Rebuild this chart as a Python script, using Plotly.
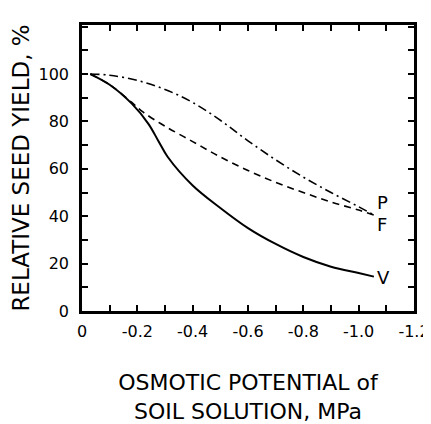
import plotly.graph_objects as go

# Data
v_x = [-0.03, -0.1, -0.18, -0.24, -0.275, -0.31, -0.4, -0.5, -0.6, -0.7, -0.8, -0.9, -1.0, -1.055]
v_y = [100, 95.5, 87.5, 79, 72, 65, 53, 43.5, 35, 28.3, 22.8, 18.7, 16, 14.5]

f_x = [-0.03, -0.1, -0.18, -0.22, -0.3, -0.4, -0.5, -0.6, -0.7, -0.8, -0.9, -1.0, -1.055]
f_y = [100, 95.5, 88, 84, 78, 71.5, 65, 59.3, 54.3, 50, 46, 42.6, 40.5]

p_x = [-0.03, -0.1, -0.2, -0.3, -0.4, -0.5, -0.6, -0.7, -0.8, -0.9, -1.0, -1.055]
p_y = [100, 99.5, 97.3, 93.5, 88, 80.5, 71.8, 63.8, 56.5, 50, 44, 40.5]

curve_labels = ["P", "F", "V"]
label_x = [-1.068, -1.068, -1.068]
label_y = [45.6, 36.6, 14.2]

x_tickvals = [0, -0.1, -0.2, -0.3, -0.4, -0.5, -0.6, -0.7, -0.8, -0.9, -1.0, -1.1, -1.2]
x_ticktext = ["0", "", "-0.2", "", "-0.4", "", "-0.6", "", "-0.8", "", "-1.0", "", "-1.2"]
y_tickvals = [0, 10, 20, 30, 40, 50, 60, 70, 80, 90, 100, 110, 120]
y_ticktext = ["0", "", "20", "", "40", "", "60", "", "80", "", "100", "", ""]

FONT = "DejaVu Sans"

fig = go.Figure()
fig.add_trace(go.Scatter(x=v_x, y=v_y, mode="lines", line=dict(color="black", width=2, shape="spline"), name="V"))
fig.add_trace(go.Scatter(x=f_x, y=f_y, mode="lines", line=dict(color="black", width=1.6, dash="7px,5px", shape="spline"), name="F"))
fig.add_trace(go.Scatter(x=p_x, y=p_y, mode="lines", line=dict(color="black", width=1.6, dash="9px,4px,2px,4px", shape="spline"), name="P"))

for t, xx, yy in zip(curve_labels, label_x, label_y):
    fig.add_annotation(x=xx, y=yy, text=t, showarrow=False, xanchor="left", yanchor="middle",
                       xshift=-2, font=dict(family=FONT, size=18, color="black"))

axis_common = dict(
    showgrid=False, zeroline=False, showline=True, linecolor="black", linewidth=2.5,
    mirror="ticks", ticks="inside", ticklen=6, tickwidth=1.5, tickcolor="black",
    tickfont=dict(family=FONT, size=16, color="black"), automargin=False,
)

# page body has an 8px default margin, so the figure is sized to fit the window
fig.update_layout(
    width=423, height=416,
    margin=dict(l=74, r=17, t=17, b=113),
    paper_bgcolor="white", plot_bgcolor="white",
    showlegend=False,
    xaxis=dict(range=[0, -1.2], tickmode="array", tickvals=x_tickvals, ticktext=x_ticktext,
               ticklabelstandoff=4,
               title=dict(text="OSMOTIC POTENTIAL of<br>SOIL SOLUTION, MPa",
                          font=dict(family=FONT, size=22, color="black"), standoff=38),
               **axis_common),
    yaxis=dict(range=[0, 120.7], tickmode="array", tickvals=y_tickvals, ticktext=y_ticktext,
               ticklabelstandoff=7,
               title=dict(text="RELATIVE SEED YIELD, %",
                          font=dict(family=FONT, size=23, color="black"), standoff=12),
               **axis_common),
)

fig.write_html("out.html")
